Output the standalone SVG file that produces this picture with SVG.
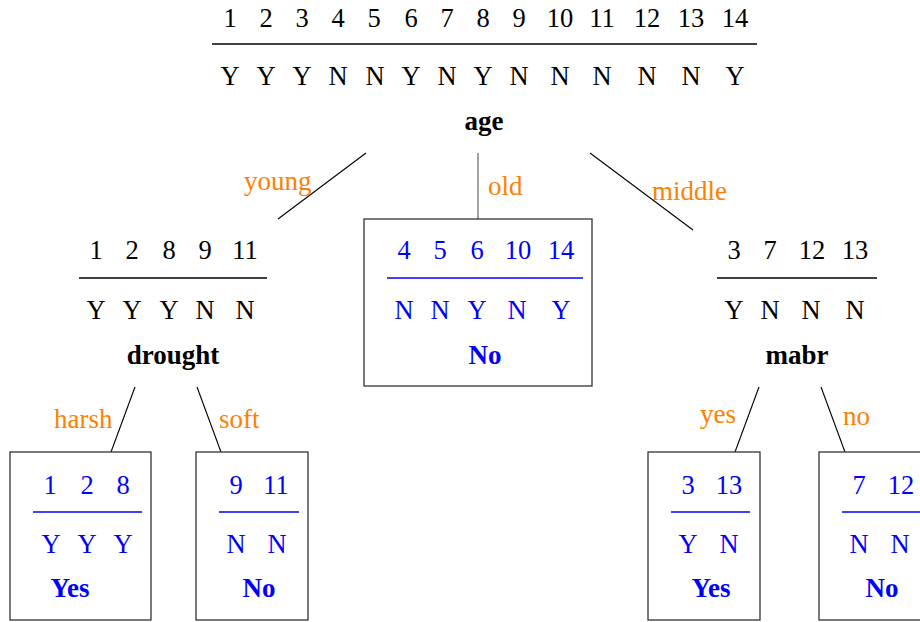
<svg xmlns="http://www.w3.org/2000/svg" width="920" height="622" viewBox="0 0 920 622">
<style>
text{font-family:"Liberation Serif","Times New Roman",serif;font-size:26.5px;text-anchor:middle}
.k{fill:#000}
.b{fill:#0000ff}
.o{fill:#ff8000;text-anchor:start;font-size:27px}
.bd{font-weight:bold;font-size:27px}
.rule{stroke:#000;stroke-width:1.5}
.brule{stroke:#0000ff;stroke-width:1.5}
.box{fill:#fff;stroke:#333;stroke-width:1.3}
.edge{stroke:#000;stroke-width:1.1;fill:none}
</style>
<rect width="920" height="622" fill="#fff"/>
<g id="connectors">
<line class="edge" x1="366" y1="153" x2="278" y2="219"/>
<line class="edge" x1="478" y1="153" x2="478" y2="219" style="stroke:#555"/>
<line class="edge" x1="590" y1="153" x2="693" y2="230"/>
<line class="edge" x1="135" y1="387" x2="111" y2="452"/>
<line class="edge" x1="197" y1="387" x2="221" y2="452"/>
<line class="edge" x1="759" y1="387" x2="735" y2="452"/>
<line class="edge" x1="821" y1="387" x2="845" y2="452"/>
<text class="o" x="244" y="190">young</text>
<text class="o" x="488" y="195">old</text>
<text class="o" x="652" y="200">middle</text>
<text class="o" x="54" y="428">harsh</text>
<text class="o" x="219" y="428">soft</text>
<text class="o" x="700" y="423">yes</text>
<text class="o" x="843" y="425">no</text>
</g>
<g id="node-age" class="k">
<text x="230" y="27">1</text><text x="266" y="27">2</text><text x="302" y="27">3</text><text x="338" y="27">4</text><text x="374" y="27">5</text><text x="411" y="27">6</text><text x="447" y="27">7</text><text x="483" y="27">8</text><text x="519" y="27">9</text><text x="560" y="27">10</text><text x="602" y="27">11</text><text x="647" y="27">12</text><text x="691" y="27">13</text><text x="735" y="27">14</text>
<line class="rule" x1="212" y1="44" x2="757" y2="44"/>
<text x="230" y="85">Y</text><text x="266" y="85">Y</text><text x="302" y="85">Y</text><text x="338" y="85">N</text><text x="375" y="85">N</text><text x="411" y="85">Y</text><text x="447" y="85">N</text><text x="483" y="85">Y</text><text x="519" y="85">N</text><text x="560" y="85">N</text><text x="602" y="85">N</text><text x="647" y="85">N</text><text x="691" y="85">N</text><text x="735" y="85">Y</text>
<text class="bd" x="484" y="130">age</text>
</g>
<g id="node-drought" class="k">
<text x="96" y="259">1</text><text x="132" y="259">2</text><text x="169" y="259">8</text><text x="205" y="259">9</text><text x="245" y="259">11</text>
<line class="rule" x1="79" y1="278" x2="267" y2="278"/>
<text x="96" y="319">Y</text><text x="132" y="319">Y</text><text x="169" y="319">Y</text><text x="205" y="319">N</text><text x="245" y="319">N</text>
<text class="bd" x="173" y="364">drought</text>
</g>
<g id="node-old" class="b">
<rect class="box" x="364" y="219" width="228" height="167"/>
<text x="404" y="259">4</text><text x="440" y="259">5</text><text x="477" y="259">6</text><text x="518" y="259">10</text><text x="561" y="259">14</text>
<line class="brule" x1="387" y1="278" x2="583" y2="278"/>
<text x="404" y="319">N</text><text x="440" y="319">N</text><text x="477" y="319">Y</text><text x="517" y="319">N</text><text x="561" y="319">Y</text>
<text class="bd" x="485" y="364">No</text>
</g>
<g id="node-mabr" class="k">
<text x="734" y="259">3</text><text x="770" y="259">7</text><text x="812" y="259">12</text><text x="855" y="259">13</text>
<line class="rule" x1="717" y1="278" x2="877" y2="278"/>
<text x="734" y="319">Y</text><text x="770" y="319">N</text><text x="811" y="319">N</text><text x="855" y="319">N</text>
<text class="bd" x="797" y="364">mabr</text>
</g>
<g id="node-harsh" class="b">
<rect class="box" x="10" y="452" width="141" height="168"/>
<text x="50" y="494">1</text><text x="87" y="494">2</text><text x="123" y="494">8</text>
<line class="brule" x1="33" y1="512" x2="142" y2="512"/>
<text x="51" y="553">Y</text><text x="87" y="553">Y</text><text x="123" y="553">Y</text>
<text class="bd" x="70" y="597">Yes</text>
</g>
<g id="node-soft" class="b">
<rect class="box" x="196" y="452" width="112" height="168"/>
<text x="236" y="494">9</text><text x="276" y="494">11</text>
<line class="brule" x1="219" y1="512" x2="299" y2="512"/>
<text x="236" y="553">N</text><text x="277" y="553">N</text>
<text class="bd" x="259" y="597">No</text>
</g>
<g id="node-yes" class="b">
<rect class="box" x="648" y="452" width="112" height="168"/>
<text x="688" y="494">3</text><text x="729" y="494">13</text>
<line class="brule" x1="671" y1="512" x2="750" y2="512"/>
<text x="688" y="553">Y</text><text x="729" y="553">N</text>
<text class="bd" x="711" y="597">Yes</text>
</g>
<g id="node-no" class="b">
<rect class="box" x="819" y="452" width="112" height="168"/>
<text x="859" y="494">7</text><text x="901" y="494">12</text>
<line class="brule" x1="842" y1="512" x2="922" y2="512"/>
<text x="859" y="553">N</text><text x="900" y="553">N</text>
<text class="bd" x="882" y="597">No</text>
</g>
</svg>
